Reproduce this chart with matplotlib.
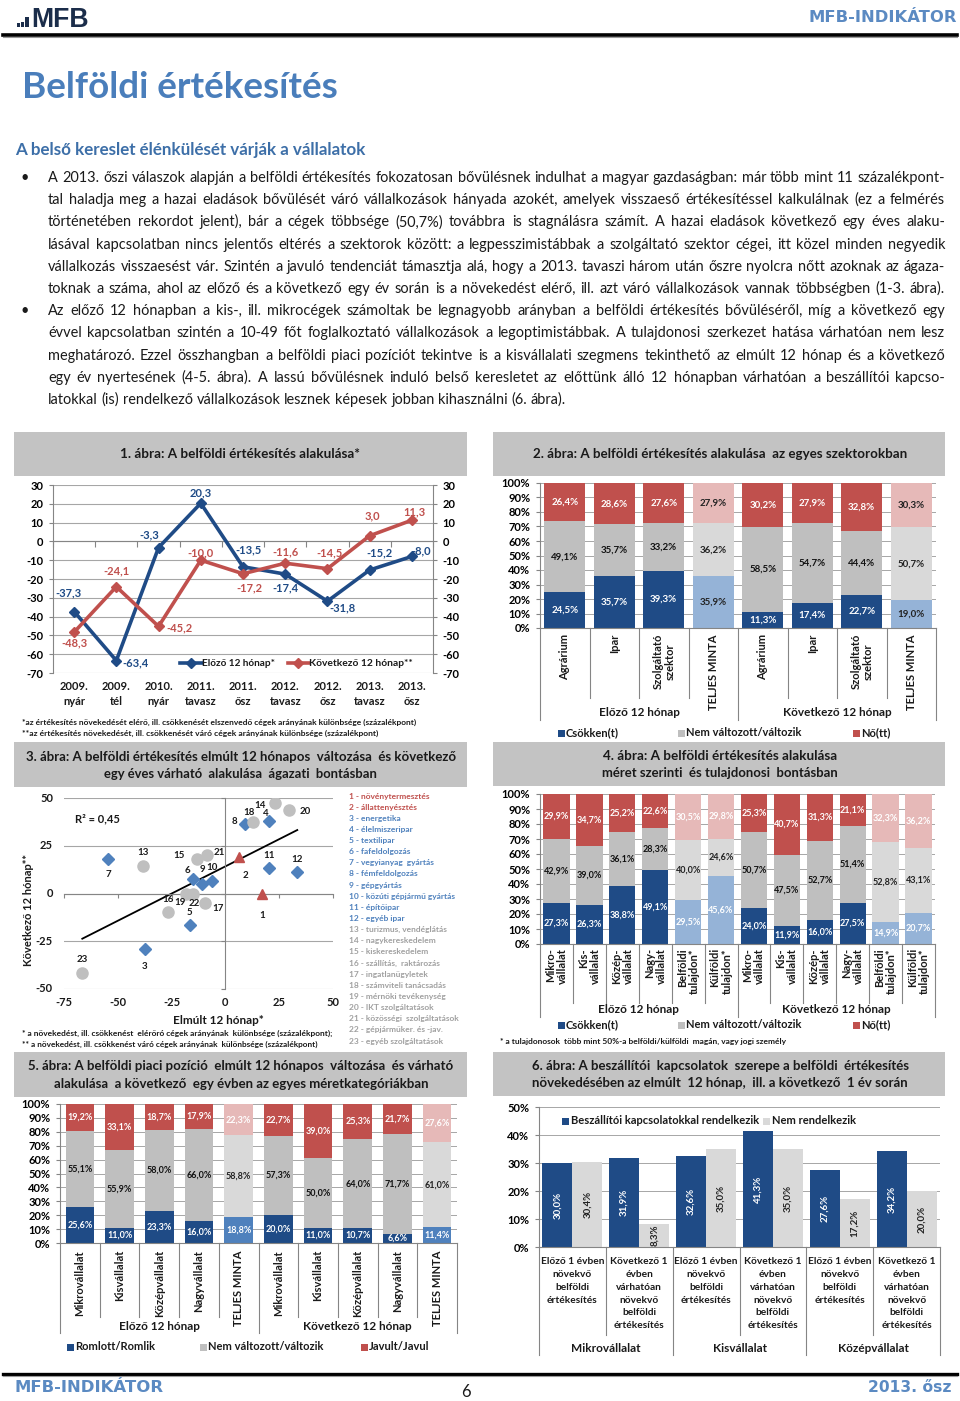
import numpy as np
import matplotlib
matplotlib.use('Agg')
import matplotlib.pyplot as plt
from matplotlib.patches import Rectangle
from matplotlib.lines import Line2D
from matplotlib.font_manager import FontProperties

# ======================= DATA =======================
page_title = 'Belföldi értékesítés'
page_subtitle = 'A belső kereslet élénkülését várják a vállalatok'
header_right = 'MFB-INDIKÁTOR'
footer_left = 'MFB-INDIKÁTOR'
footer_page = '6'
footer_right = '2013. ősz'

para1 = [
    'A 2013. őszi válaszok alapján a belföldi értékesítés fokozatosan bővülésnek indulhat a magyar gazdaságban: már több mint 11 százalékpont-',
    'tal haladja meg a hazai eladások bővülését váró vállalkozások hányada azokét, amelyek visszaeső értékesítéssel kalkulálnak (ez a felmérés',
    'történetében rekordot jelent), bár a cégek többsége (50,7%) továbbra is stagnálásra számít. A hazai eladások következő egy éves alaku-',
    'lásával kapcsolatban nincs jelentős eltérés a szektorok között: a legpesszimistábbak a szolgáltató szektor cégei, itt közel minden negyedik',
    'vállalkozás visszaesést vár. Szintén a javuló tendenciát támasztja alá, hogy a 2013. tavaszi három után őszre nyolcra nőtt azoknak az ágaza-',
    'toknak a száma, ahol az előző és a következő egy év során is a növekedést elérő, ill. azt váró vállalkozások vannak többségben (1-3. ábra).',
]
para2 = [
    'Az előző 12 hónapban a kis-, ill. mikrocégek számoltak be legnagyobb arányban a belföldi értékesítés bővüléséről, míg a következő egy',
    'évvel kapcsolatban szintén a 10-49 főt foglalkoztató vállalkozások a legoptimistábbak. A tulajdonosi szerkezet hatása várhatóan nem lesz',
    'meghatározó. Ezzel összhangban a belföldi piaci pozíciót tekintve is a kisvállalati szegmens tekinthető az elmúlt 12 hónap és a következő',
    'egy év nyertesének (4-5. ábra). A lassú bővülésnek induló belső keresletet az előttünk álló 12 hónapban várhatóan a beszállítói kapcso-',
    'latokkal (is) rendelkező vállalkozások lesznek képesek jobban kihasználni (6. ábra).',
]

# Chart 1
c1_title = '1. ábra: A belföldi értékesítés alakulása*'
c1_periods = ['2009.\nnyár', '2009.\ntél', '2010.\nnyár', '2011.\ntavasz', '2011.\nősz',
              '2012.\ntavasz', '2012.\nősz', '2013.\ntavasz', '2013.\nősz']
c1_prev = [-37.3, -63.4, -3.3, 20.3, -13.5, -17.4, -31.8, -15.2, -8.0]
c1_next = [-48.3, -24.1, -45.2, -10.0, -17.2, -11.6, -14.5, 3.0, 11.3]
c1_series = ['Előző 12 hónap*', 'Következő 12 hónap**']
c1_yticks = [30, 20, 10, 0, -10, -20, -30, -40, -50, -60, -70]
c1_notes = ['*az értékesítés növekedését elérő, ill. csökkenését elszenvedő cégek arányának különbsége (százalékpont)',
            '**az értékesítés növekedését, ill. csökkenését váró cégek arányának különbsége (százalékpont)']

# Chart 2
c2_title = '2. ábra: A belföldi értékesítés alakulása  az egyes szektorokban'
c2_cats = ['Agrárium', 'Ipar', 'Szolgáltató\nszektor', 'TELJES MINTA'] * 2
c2_groups = ['Előző 12 hónap', 'Következő 12 hónap']
c2_down = [24.5, 35.7, 39.3, 35.9, 11.3, 17.4, 22.7, 19.0]
c2_same = [49.1, 35.7, 33.2, 36.2, 58.5, 54.7, 44.4, 50.7]
c2_up = [26.4, 28.6, 27.6, 27.9, 30.2, 27.9, 32.8, 30.3]
c2_total = [False, False, False, True] * 2
c2_legend = ['Csökken(t)', 'Nem változott/változik', 'Nő(tt)']

# Chart 3
c3_title = ['3. ábra: A belföldi értékesítés elmúlt 12 hónapos  változása  és következő',
            'egy éves várható  alakulása  ágazati  bontásban']
c3_ids = list(range(1, 24))
c3_x = [17.0, 6.2, -37.4, 20.3, -16.6, -15.2, -54.4, 9.3, -10.7, -6.1, 20.3, 33.4,
        -38.4, 23.0, -13.2, -26.5, -9.3, 12.8, -18.2, 29.7, -8.4, -15.2, -66.5]
c3_y = [0.0, 19.0, -29.2, 38.1, -16.7, 7.6, 18.1, 36.2, 5.1, 6.4, 13.2, 11.1,
        14.4, 47.5, 17.9, -9.9, -4.8, 37.4, -0.1, 43.7, 20.0, -0.1, -41.6]
c3_group = ['agr'] * 2 + ['ind'] * 10 + ['srv'] * 11
c3_names = ['növénytermesztés', 'állattenyésztés', 'energetika', 'élelmiszeripar', 'textilipar',
            'fafeldolgozás', 'vegyianyag  gyártás', 'fémfeldolgozás', 'gépgyártás',
            'közúti gépjármű gyártás', 'építőipar', 'egyéb ipar', 'turizmus, vendéglátás',
            'nagykereskedelem', 'kiskereskedelem', 'szállítás,  raktározás', 'ingatlanügyletek',
            'számviteli tanácsadás', 'mérnöki tevékenység', 'IKT szolgáltatások',
            'közösségi  szolgáltatások', 'gépjárműker. és -jav.', 'egyéb szolgáltatások']
c3_xticks = [-75, -50, -25, 0, 25, 50]
c3_yticks = [50, 25, 0, -25, -50]
c3_xlabel = 'Elmúlt 12 hónap*'
c3_ylabel = 'Következő 12 hónap**'
c3_notes = ['* a növekedést, ill. csökkenést  elérőró cégek arányának  különbsége (százalékpont);',
            '** a növekedést, ill. csökkenést váró cégek arányának  különbsége (százalékpont)']

# Chart 4
c4_title = ['4. ábra: A belföldi értékesítés alakulása', 'méret szerinti  és tulajdonosi  bontásban']
c4_cats = ['Mikro-\nvállalat', 'Kis-\nvállalat', 'Közép-\nvállalat', 'Nagy-\nvállalat',
           'Belföldi\ntulajdon*', 'Külföldi\ntulajdon*'] * 2
c4_groups = ['Előző 12 hónap', 'Következő 12 hónap']
c4_down = [27.3, 26.3, 38.8, 49.1, 29.5, 45.6, 24.0, 11.9, 16.0, 27.5, 14.9, 20.7]
c4_same = [42.9, 39.0, 36.1, 28.3, 40.0, 24.6, 50.7, 47.5, 52.7, 51.4, 52.8, 43.1]
c4_up = [29.9, 34.7, 25.2, 22.6, 30.5, 29.8, 25.3, 40.7, 31.3, 21.1, 32.3, 36.2]
c4_total = [False, False, False, False, True, True] * 2
c4_legend = ['Csökken(t)', 'Nem változott/változik', 'Nő(tt)']
c4_note = '* a tulajdonosok  több mint 50%-a belföldi/külföldi  magán, vagy jogi személy'

# Chart 5
c5_title = ['5. ábra: A belföldi piaci pozíció  elmúlt 12 hónapos  változása  és várható',
            'alakulása  a következő  egy évben az egyes méretkategóriákban']
c5_cats = ['Mikrovállalat', 'Kisvállalat', 'Középvállalat', 'Nagyvállalat', 'TELJES MINTA'] * 2
c5_groups = ['Előző 12 hónap', 'Következő 12 hónap']
c5_down = [25.6, 11.0, 23.3, 16.0, 18.8, 20.0, 11.0, 10.7, 6.6, 11.4]
c5_same = [55.1, 55.9, 58.0, 66.0, 58.8, 57.3, 50.0, 64.0, 71.7, 61.0]
c5_up = [19.2, 33.1, 18.7, 17.9, 22.3, 22.7, 39.0, 25.3, 21.7, 27.6]
c5_total = [False, False, False, False, True] * 2
c5_legend = ['Romlott/Romlik', 'Nem változott/változik', 'Javult/Javul']

# Chart 6
c6_title = ['6. ábra: A beszállítói  kapcsolatok  szerepe a belföldi  értékesítés',
            'növekedésében az elmúlt  12 hónap,  ill. a következő  1 év során']
c6_cats = ['Előző 1 évben\nnövekvő\nbelföldi\nértékesítés',
           'Következő 1\névben\nvárhatóan\nnövekvő\nbelföldi\nértékesítés'] * 3
c6_groups = ['Mikrovállalat', 'Kisvállalat', 'Középvállalat']
c6_with = [30.0, 31.9, 32.6, 41.3, 27.6, 34.2]
c6_without = [30.4, 8.3, 35.0, 35.0, 17.2, 20.0]
c6_legend = ['Beszállítói kapcsolatokkal rendelkezik', 'Nem rendelkezik']

# ======================= STYLE / LAYOUT =======================
W, H = 960, 1401
fig = plt.figure(figsize=(W / 100, H / 100), dpi=100)
fig.patch.set_facecolor('white')
FONT = ['Lato', 'DejaVu Sans']
plt.rcParams['font.family'] = FONT
plt.rcParams['font.weight'] = 'bold'
plt.rcParams['axes.unicode_minus'] = False
renderer = fig.canvas.get_renderer()

NAVY = '#1f4b86'
RED = '#c0504d'
GRAY = '#bfbfbf'
LBLUE = '#95b3d7'
MBLUE = '#4f81bd'
LGRAY = '#d9d9d9'
PINK = '#e6b9b8'
AXC = '#858585'
GRIDC = '#a6a6a6'
TITLE_BLUE = '#4a7ebb'
HEAD_BLUE = '#5b8ac2'
TXT = '#1a1a1a'


def fx(x):
    return x / W


def fy(y):
    return 1 - y / H


def T(x, y, s, **kw):
    kw.setdefault('ha', 'left')
    kw.setdefault('va', 'center')
    return fig.text(fx(x), fy(y), s, **kw)


def add_ax(x0, y0, x1, y1):
    return fig.add_axes([fx(x0), fy(y1), (x1 - x0) / W, (y1 - y0) / H])


def frect(x0, y0, x1, y1, **kw):
    fig.add_artist(Rectangle((fx(x0), fy(y1)), (x1 - x0) / W, (y1 - y0) / H,
                             transform=fig.transFigure, **kw))


def fline(xs, ys, **kw):
    fig.add_artist(Line2D([fx(v) for v in xs], [fy(v) for v in ys],
                          transform=fig.transFigure, **kw))


def measure(s, size, weight='normal', family=FONT):
    fp = FontProperties(family=family, size=size, weight=weight)
    w, h, d = renderer.get_text_width_height_descent(s, fp, ismath=False)
    return w


def fit_text(x, y, s, width, size=10, weight='bold', family=FONT, **kw):
    w = measure(s, size, weight, family)
    return T(x, y, s, fontsize=size * width / w, fontweight=weight, family=family, **kw)


def pct(v):
    return f'{v:.1f}%'.replace('.', ',')


def num(v):
    return f'{v:.1f}'.replace('.', ',')


# ======================= HEADER =======================
LOGO = '#1b2d4a'
frect(16.7, 23.3, 20, 26.7, fc=LOGO, ec='none')
frect(20.9, 21.5, 24.2, 26.7, fc=LOGO, ec='none')
frect(25.3, 16.7, 28.6, 26.7, fc=LOGO, ec='none')
fit_text(31, 26.7, 'MFB', 58, size=17, color=LOGO, va='baseline',
         family=['Liberation Sans', 'DejaVu Sans'])
fit_text(957, 17, header_right, 149, size=10.5, family=['DejaVu Sans'], color=HEAD_BLUE, ha='right')
fline([3, 957], [35, 35], color='black', lw=2.6)
fline([3, 957], [36.8, 36.8], color='#9a9a9a', lw=0.8)

fit_text(22, 87, page_title, 316, size=26, color=TITLE_BLUE)
fit_text(15, 150, page_subtitle, 352, size=11, color='#3d6fa8')

# ======================= BODY TEXT =======================
bx0, bx1 = 48, 945
all_lines = para1 + para2
justify = [True] * 6 + [True] * 4 + [False]
base = 11.5
sp_base = measure('a a', base) - measure('aa', base)
nat = []
for ln, j in zip(all_lines, justify):
    if not j:
        continue
    ws = ln.split(' ')
    nat.append(sum(measure(w, base) for w in ws) + sp_base * (len(ws) - 1))
bsize = base * min(1.0, 0.995 * (bx1 - bx0) / max(nat))
sp = measure('a a', bsize) - measure('aa', bsize)
for i, (ln, j) in enumerate(zip(all_lines, justify)):
    yb = 182 + 22.2 * i
    ws = ln.split(' ')
    wl = [measure(w, bsize) for w in ws]
    gap = (bx1 - bx0 - sum(wl)) / (len(ws) - 1) if j else sp
    xc = bx0
    for w, wd in zip(ws, wl):
        T(xc, yb, w, fontsize=bsize, fontweight='normal', color=TXT, va='baseline')
        xc += wd + gap
for yb in (182, 182 + 22.2 * 6):
    T(20, yb, '•', fontsize=bsize, fontweight='normal', color=TXT, va='baseline')

# ======================= TITLE BOXES =======================
BOXC = '#c3c3c3'
frect(14, 432, 467, 476, fc=BOXC, ec='none')
frect(493, 432, 945, 476, fc=BOXC, ec='none')
frect(14, 742, 467, 787, fc=BOXC, ec='none')
frect(493, 742, 945, 786, fc=BOXC, ec='none')
frect(14, 1052, 467, 1097, fc=BOXC, ec='none')
frect(493, 1052, 945, 1096, fc=BOXC, ec='none')
fit_text(240, 454, c1_title, 241, size=9.5, ha='center', color=TXT)
fit_text(720, 454, c2_title, 374, size=9.5, ha='center', color=TXT)
fit_text(241, 757, c3_title[0], 433, size=9.5, ha='center', color=TXT)
fit_text(240, 774, c3_title[1], 273, size=9.5, ha='center', color=TXT)
fit_text(720, 756, c4_title[0], 235, size=9.5, ha='center', color=TXT)
fit_text(720, 773, c4_title[1], 236, size=9.5, ha='center', color=TXT)
fit_text(241, 1066, c5_title[0], 428, size=9.5, ha='center', color=TXT)
fit_text(241, 1084, c5_title[1], 376, size=9.5, ha='center', color=TXT)
fit_text(720, 1066, c6_title[0], 377, size=9.5, ha='center', color=TXT)
fit_text(720, 1083, c6_title[1], 377, size=9.5, ha='center', color=TXT)

# ======================= CHART 1 =======================
c1_prev_off = [(-6, 19), (19, -2), (-9, 13), (0, 10), (5, 17), (0, -14), (15, -7), (10, 17), (9, 6)]
c1_next_off = [(0, -11), (0, 16), (21, -1), (0, 7), (6, -14), (0, 11), (2, 16), (3, 20), (3, 8)]
ax1 = add_ax(53, 485, 433, 673)
n1 = len(c1_periods)
x1 = np.arange(n1)
ax1.set_xlim(-0.5, n1 - 0.5)
ax1.set_ylim(min(c1_yticks), max(c1_yticks))
ax1.set_yticks(c1_yticks)
ax1.yaxis.grid(True, color=GRIDC, lw=0.8)
ax1.set_axisbelow(True)
ax1.plot(x1, c1_prev, color=NAVY, lw=2.6, marker='D', ms=5, zorder=3)
ax1.plot(x1, c1_next, color=RED, lw=2.6, marker='D', ms=5, zorder=3)
ax1.spines['top'].set_visible(False)
ax1.spines['bottom'].set_position(('data', 0))
for s in ('left', 'right', 'bottom'):
    ax1.spines[s].set_color(AXC)
ax1.set_xticks(np.arange(n1 + 1) - 0.5)
ax1.tick_params(axis='x', length=4, direction='out', color=AXC, labelbottom=False)
ax1.tick_params(axis='y', length=3, color=AXC, labelsize=8, pad=4, right=True, labelright=True)
for t in ax1.yaxis.get_ticklabels(which='both'):
    t.set_fontweight('bold')
ay1 = lambda py: (673 - py) / (673 - 485)
tr1 = ax1.get_xaxis_transform()
for i, lab in enumerate(c1_periods):
    ax1.text(i, ay1(694), lab, transform=tr1, ha='center', va='center', fontsize=8,
             fontweight='bold', linespacing=1.35, color=TXT)
for vals, offs, col in ((c1_prev, c1_prev_off, NAVY), (c1_next, c1_next_off, RED)):
    for i, (v, (dx, dy)) in enumerate(zip(vals, offs)):
        ax1.annotate(num(v), (i, v), xytext=(dx * 0.72, dy * 0.72), textcoords='offset points',
                     ha='center', va='center', fontsize=8, fontweight='bold', color=col, zorder=4)
# legend
fig.add_artist(Line2D([fx(180), fx(191), fx(202)], [fy(663)] * 3, color=NAVY, lw=2.6,
                      marker='D', ms=5, markevery=[1], transform=fig.transFigure))
fit_text(202, 663, c1_series[0], 73, size=8, color=TXT)
fig.add_artist(Line2D([fx(288), fx(298), fx(309)], [fy(663)] * 3, color=RED, lw=2.6,
                      marker='D', ms=5, markevery=[1], transform=fig.transFigure))
fit_text(309, 663, c1_series[1], 104, size=8, color=TXT)
fit_text(22, 722, c1_notes[0], 399, size=6, color=TXT)
fit_text(22, 733, c1_notes[1], 357, size=6, color=TXT)


# ======================= STACKED CHARTS =======================
def stacked_chart(box, cats, down, same, up, total, cols, lcols, ltxt, bar_w, val_fs,
                  cat_top, cat_ma, inner_bot, outer_bot, groups, group_y,
                  leg_labels, leg_x, leg_y, cat_ls=1.1):
    x0, ytop, x1_, ybot = box
    ax = add_ax(x0, ytop, x1_, ybot)
    n = len(cats)
    xs = np.arange(n)
    ay = lambda py: (ybot - py) / (ybot - ytop)
    ax.set_xlim(-0.5, n - 0.5)
    ax.set_ylim(0, 100)
    yt = np.arange(0, 101, 10)
    ax.set_yticks(yt)
    ax.set_yticklabels([f'{v}%' for v in yt], fontweight='bold')
    ax.yaxis.grid(True, color=GRIDC, lw=0.7)
    ax.set_axisbelow(True)
    ax.set_xticks([])
    ax.spines[['top', 'right']].set_visible(False)
    ax.spines['bottom'].set_color(AXC)
    ax.spines['left'].set_color(AXC)
    ax.tick_params(axis='y', length=3, color=AXC, labelsize=8, pad=4)
    dark_txt = ['white', '#111111', 'white']
    bottoms = np.zeros(n)
    for k, vals in enumerate([down, same, up]):
        vals = np.array(vals, dtype=float)
        colors = [lcols[k] if total[i] else cols[k] for i in range(n)]
        ax.bar(xs, vals, bar_w, bottom=bottoms, color=colors, zorder=2)
        for i in range(n):
            tc = ltxt[k] if total[i] else dark_txt[k]
            ax.text(xs[i], bottoms[i] + vals[i] / 2, pct(vals[i]), ha='center', va='center',
                    fontsize=val_fs, fontweight='bold', color=tc, zorder=3)
        bottoms = bottoms + vals
    tr = ax.get_xaxis_transform()
    ng = n // len(groups)
    for b in range(n + 1):
        outer = (b % ng == 0)
        yb = ay(outer_bot if outer else inner_bot)
        ax.plot([b - 0.5, b - 0.5], [0, yb], transform=tr, color=AXC, lw=0.8, clip_on=False)
    for i, c in enumerate(cats):
        ax.text(i, ay(cat_top), c, transform=tr, rotation=90, ha='center', va='top',
                multialignment=cat_ma, fontsize=8, fontweight='bold', linespacing=cat_ls, color=TXT)
    for g, name in enumerate(groups):
        ax.text(g * ng + (ng - 1) / 2, ay(group_y), name, transform=tr, ha='center', va='center',
                fontsize=8.5, fontweight='bold', color=TXT)
    for k, (lab, lx) in enumerate(zip(leg_labels, leg_x)):
        frect(lx, leg_y - 3.5, lx + 7, leg_y + 3.5, fc=cols[k], ec='none')
        T(lx + 8, leg_y, lab, fontsize=8, fontweight='bold', color=TXT)
    return ax


stacked_chart((540, 483, 936, 628), c2_cats, c2_down, c2_same, c2_up, c2_total,
              [NAVY, GRAY, RED], [LBLUE, LGRAY, PINK], ['#222222', '#222222', '#222222'],
              0.82, 7, 634, 'center', 698, 720, c2_groups, 713,
              c2_legend, [558, 678, 853], 733)

stacked_chart((540, 794, 935, 944), c4_cats, c4_down, c4_same, c4_up, c4_total,
              [NAVY, GRAY, RED], [LBLUE, LGRAY, PINK], ['white', '#222222', 'white'],
              0.8, 6.5, 948, 'right', 1003, 1017, c4_groups, 1009,
              c4_legend, [558, 678, 853], 1025)
fit_text(500, 1041, c4_note, 288, size=6, color=TXT)

stacked_chart((60, 1104, 457, 1243), c5_cats, c5_down, c5_same, c5_up, c5_total,
              [NAVY, GRAY, RED], [MBLUE, LGRAY, PINK], ['white', '#222222', 'white'],
              0.72, 6.5, 1250, 'center', 1317, 1333, c5_groups, 1327,
              c5_legend, [67, 200, 361], 1347)

# ======================= CHART 3 =======================
c3_off = [(0, -22), (7, -18), (0, -17), (-3, 7), (0, 13), (-5, 8), (0, -16), (-11, 3),
          (0, 14), (0, 14), (0, 13), (0, 13), (0, 13), (-15, -3), (-18, 4), (0, 13),
          (13, -6), (-4, 10), (-6, -9), (16, -1), (12, 3), (2, -10), (0, 13)]
ax3 = add_ax(64, 798, 333, 989)
ax3.set_xlim(min(c3_xticks), max(c3_xticks))
ax3.set_ylim(min(c3_yticks), max(c3_yticks))
ax3.set_yticks(c3_yticks)
ax3.set_xticks(c3_xticks)
ax3.yaxis.grid(True, color=GRIDC, lw=0.8)
ax3.set_axisbelow(True)
ax3.spines[['top', 'right']].set_visible(False)
ax3.spines['left'].set_position(('data', 0))
ax3.spines['bottom'].set_position(('data', 0))
ax3.spines['left'].set_color(AXC)
ax3.spines['bottom'].set_color(AXC)
ax3.tick_params(axis='both', length=3, direction='out', color=AXC, labelbottom=False, labelleft=False)
ay3 = lambda py: (989 - py) / (989 - 798)
axf3 = lambda px: (px - 64) / (333 - 64)
for v in c3_xticks:
    ax3.text(v, ay3(1003), str(v), transform=ax3.get_xaxis_transform(), ha='center', va='center',
             fontsize=8, fontweight='bold', color=TXT)
for v in c3_yticks:
    ax3.text(axf3(53), v, str(v), transform=ax3.get_yaxis_transform(), ha='right', va='center',
             fontsize=8, fontweight='bold', color=TXT)
styles = {'agr': dict(marker='^', color=RED, ms=7.5),
          'ind': dict(marker='D', color=MBLUE, ms=6),
          'srv': dict(marker='o', color=GRAY, ms=8)}
cx = np.array(c3_x)
cy = np.array(c3_y)
slope, icpt = np.polyfit(cx, cy, 1)
r2 = np.corrcoef(cx, cy)[0, 1] ** 2
xl = np.array([cx.min(), cx.max()])
ax3.plot(xl, slope * xl + icpt, color='black', lw=1.3, zorder=2)
for i in range(len(c3_ids)):
    st = styles[c3_group[i]]
    ax3.plot(cx[i], cy[i], linestyle='none', marker=st['marker'], color=st['color'],
             ms=st['ms'], mec=st['color'], zorder=3)
    dx, dy = c3_off[i]
    ax3.annotate(str(c3_ids[i]), (cx[i], cy[i]), xytext=(dx * 0.72, dy * 0.72),
                 textcoords='offset points', ha='center', va='center', fontsize=7,
                 fontweight='bold', color=TXT, zorder=4)
T(75, 819, f'R² = {r2:.2f}'.replace('.', ','), fontsize=8, fontweight='bold', color=TXT)
T(28, 910, c3_ylabel, rotation=90, ha='center', fontsize=8, fontweight='bold', color=TXT)
T(218, 1021, c3_xlabel, ha='center', fontsize=8.5, fontweight='bold', color=TXT)
fit_text(22, 1033, c3_notes[0], 311, size=6, color=TXT)
fit_text(22, 1044, c3_notes[1], 295, size=6, color=TXT)
leg_cols = {'agr': RED, 'ind': MBLUE, 'srv': '#a0a0a0'}
for i, (idn, name) in enumerate(zip(c3_ids, c3_names)):
    T(349, 796 + i * 11.14, f'{idn} - {name}', fontsize=6, fontweight='bold',
      color=leg_cols[c3_group[i]])

# ======================= CHART 6 =======================
ax6 = add_ax(539, 1107, 940, 1247)
n6 = len(c6_cats)
x6 = np.arange(n6)
bw = 0.45
ax6.set_xlim(-0.5, n6 - 0.5)
ax6.set_ylim(0, 50)
yt6 = np.arange(0, 51, 10)
ax6.set_yticks(yt6)
ax6.set_yticklabels([f'{v}%' for v in yt6], fontweight='bold')
ax6.yaxis.grid(True, color=GRIDC, lw=0.7)
ax6.set_axisbelow(True)
ax6.set_xticks([])
ax6.spines[['top', 'right']].set_visible(False)
ax6.spines['left'].set_color(AXC)
ax6.spines['bottom'].set_color(AXC)
ax6.tick_params(axis='y', length=3, color=AXC, labelsize=8, pad=4)
ax6.bar(x6 - bw / 2, c6_with, bw, color=NAVY, zorder=2)
ax6.bar(x6 + bw / 2, c6_without, bw, color=LGRAY, zorder=2)
for i in range(n6):
    ax6.text(x6[i] - bw / 2, c6_with[i] / 2, pct(c6_with[i]), rotation=90, ha='center', va='center',
             fontsize=7, fontweight='bold', color='white', zorder=3)
    ax6.text(x6[i] + bw / 2, c6_without[i] / 2, pct(c6_without[i]), rotation=90, ha='center',
             va='center', fontsize=7, fontweight='bold', color='#222222', zorder=3)
ay6 = lambda py: (1247 - py) / (1247 - 1107)
tr6 = ax6.get_xaxis_transform()
for b in range(n6 + 1):
    yb = ay6(1355 if b % 2 == 0 else 1335)
    ax6.plot([b - 0.5, b - 0.5], [0, yb], transform=tr6, color=AXC, lw=0.8, clip_on=False)
for i, c in enumerate(c6_cats):
    ax6.text(i, ay6(1257), c, transform=tr6, ha='center', va='top', fontsize=7.3,
             fontweight='bold', linespacing=1.55, color=TXT)
for g, name in enumerate(c6_groups):
    ax6.text(2 * g + 0.5, ay6(1349), name, transform=tr6, ha='center', va='center',
             fontsize=8.5, fontweight='bold', color=TXT)
frect(562, 1117.5, 569, 1124.5, fc=NAVY, ec='none')
T(571, 1121, c6_legend[0], fontsize=8, fontweight='bold', color=TXT)
frect(763, 1117.5, 770, 1124.5, fc=LGRAY, ec='none')
T(772, 1121, c6_legend[1], fontsize=8, fontweight='bold', color=TXT)

# ======================= FOOTER =======================
fline([3, 957], [1374, 1374], color='black', lw=2.4)
fline([3, 957], [1375.8, 1375.8], color='#9a9a9a', lw=0.8)
fit_text(15, 1388, footer_left, 150, size=10.5, family=['DejaVu Sans'], color=HEAD_BLUE)
T(466, 1392, footer_page, fontsize=12, fontweight='normal', color=TXT, ha='center')
fit_text(952, 1388, footer_right, 84, size=10.5, family=['DejaVu Sans'], color=HEAD_BLUE, ha='right')

fig.savefig('out.png', dpi=100, facecolor='white')
